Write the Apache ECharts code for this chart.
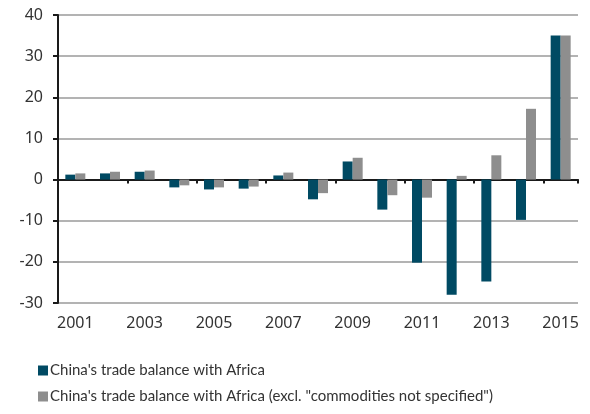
<!DOCTYPE html>
<html><head><meta charset="utf-8">
<script src="https://cdn.jsdelivr.net/npm/echarts@6/dist/echarts.min.js"></script>
<style>html,body{margin:0;padding:0;background:#fff}#c{width:590px;height:414px}</style>
</head><body><div id="c"></div>
<script>
const years = ['2001','2002','2003','2004','2005','2006','2007','2008','2009','2010','2011','2012','2013','2014','2015'];
const tradeBalance = [1.2, 1.5, 1.9, -1.9, -2.4, -2.2, 1.0, -4.8, 4.4, -7.3, -20.2, -28.0, -24.8, -9.8, 35.0];
const tradeBalanceExcl = [1.5, 1.9, 2.2, -1.4, -1.9, -1.7, 1.7, -3.3, 5.3, -3.8, -4.4, 0.9, 5.9, 17.2, 35.0];
const seriesNames = ["China's trade balance with Africa", "China's trade balance with Africa (excl. \"commodities not specified\")"];
const FONT = 'Noto Sans';
const chart = echarts.init(document.getElementById('c'));
chart.setOption({
  animation: false,
  textStyle: {fontFamily: FONT},
  grid: {left: 58, right: 12, top: 15, bottom: 111, containLabel: false},
  legend: {
    orient: 'vertical', left: 33, top: 358, itemWidth: 10, itemHeight: 10, itemGap: 11,
    icon: 'rect',
    textStyle: {fontFamily: 'Lato', fontSize: 15, color: '#333', padding: [0,0,0,-3]},
    data: seriesNames
  },
  xAxis: [{
    type: 'category', data: years, position: 'bottom',
    axisLine: {show: false, onZero: false}, axisTick: {show: false},
    axisLabel: {interval: 1, margin: 12, fontSize: 16, color: '#333', fontFamily: FONT}
  }, {
    type: 'category', data: years, position: 'top',
    axisLine: {show: true, onZero: true, lineStyle: {color: '#1a1a1a', width: 2}},
    axisTick: {show: true, length: 4, inside: true, lineStyle: {color: '#1a1a1a', width: 2}},
    axisLabel: {show: false}
  }],
  yAxis: {
    type: 'value', min: -30, max: 40, interval: 10,
    axisLine: {show: true, onZero: false, lineStyle: {color: '#1a1a1a', width: 2}},
    axisTick: {show: true, length: 5, lineStyle: {color: '#1a1a1a', width: 2}},
    axisLabel: {fontSize: 16, color: '#333', margin: 15, fontFamily: FONT},
    splitLine: {show: true, lineStyle: {color: '#9a9a9a', width: 1.5}}
  },
  series: [{
    name: seriesNames[0], type: 'bar', data: tradeBalance, barWidth: 10, barGap: '0%',
    itemStyle: {color: '#004a63'}
  }, {
    name: seriesNames[1], type: 'bar', data: tradeBalanceExcl, barWidth: 10, barGap: '0%',
    itemStyle: {color: '#8e8e8e'}
  }]
});
</script></body></html>
